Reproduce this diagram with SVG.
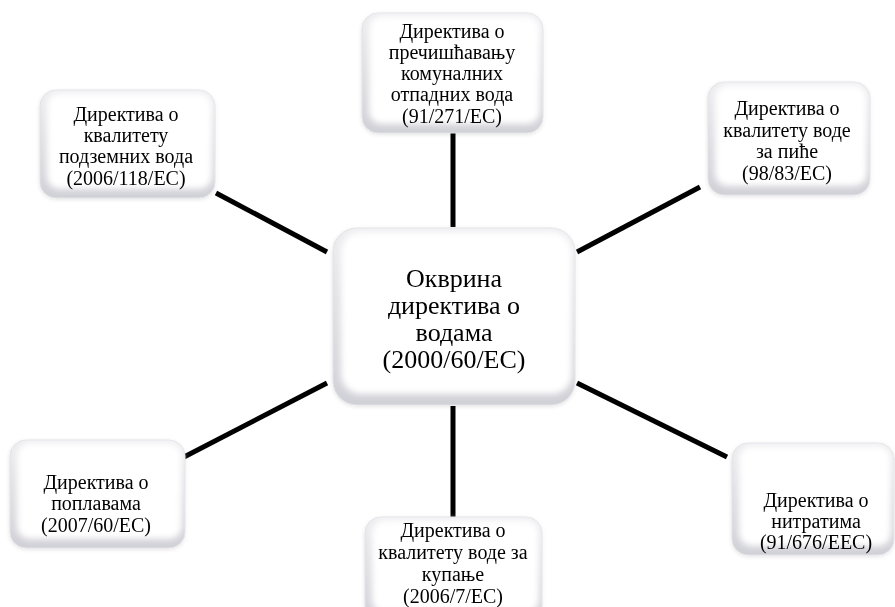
<svg xmlns="http://www.w3.org/2000/svg" width="895" height="607" viewBox="0 0 895 607">
<defs>
<linearGradient id="edge" x1="0" y1="0" x2="0" y2="1">
<stop offset="0" stop-color="#eeeef1"/>
<stop offset="1" stop-color="#d0d0d7"/>
</linearGradient>
<filter id="soft" x="-10%" y="-10%" width="120%" height="120%">
<feGaussianBlur stdDeviation="3"/>
</filter>
<filter id="shadow" x="-10%" y="-10%" width="120%" height="130%">
<feGaussianBlur in="SourceAlpha" stdDeviation="2"/>
<feOffset dy="1"/>
<feComponentTransfer><feFuncA type="linear" slope="0.12"/></feComponentTransfer>
<feMerge><feMergeNode/><feMergeNode in="SourceGraphic"/></feMerge>
</filter>
</defs>
<style>
.outer{fill:url(#edge);stroke:#e2e2e6;stroke-width:1}
.inner{fill:#ffffff;filter:url(#soft)}
.t{font-family:"Liberation Serif","Times New Roman",serif;font-size:20px;fill:#000;text-anchor:middle}
.tc{font-family:"Liberation Serif","Times New Roman",serif;font-size:26px;fill:#000;text-anchor:middle}
.c{stroke:#000;stroke-width:5;fill:none}
</style>
<rect width="895" height="607" fill="#ffffff"/>
<g id="connectors">
<line class="c" x1="453" y1="133" x2="453" y2="227"/>
<line class="c" x1="453" y1="406" x2="453" y2="517"/>
<line class="c" x1="216" y1="193" x2="327" y2="252"/>
<line class="c" x1="577" y1="252" x2="700" y2="187"/>
<line class="c" x1="184" y1="457" x2="327" y2="383"/>
<line class="c" x1="577" y1="383" x2="727" y2="457"/>
</g>
<g id="center" filter="url(#shadow)">
<rect class="outer" x="333" y="228" width="242" height="177" rx="24"/>
<rect class="inner" x="341" y="232" width="231" height="162" rx="20"/>
<text class="tc" x="454" y="287">Окврина</text>
<text class="tc" x="454" y="314">директива о</text>
<text class="tc" x="454" y="341">водама</text>
<text class="tc" x="454" y="368">(2000/60/EC)</text>
</g>
<g id="top" filter="url(#shadow)">
<rect class="outer" x="362" y="13" width="181" height="120" rx="16"/>
<rect class="inner" x="369" y="16" width="171" height="108" rx="13"/>
<text class="t" x="452" y="38">Директива о</text>
<text class="t" x="452" y="59">пречишћавању</text>
<text class="t" x="452" y="80">комуналних</text>
<text class="t" x="452" y="101">отпадних вода</text>
<text class="t" x="452" y="123">(91/271/EC)</text>
</g>
<g id="topleft" filter="url(#shadow)">
<rect class="outer" x="40" y="90" width="175" height="108" rx="16"/>
<rect class="inner" x="47" y="93" width="165" height="96" rx="13"/>
<text class="t" x="126" y="121">Директива о</text>
<text class="t" x="126" y="142">квалитету</text>
<text class="t" x="126" y="163">подземних вода</text>
<text class="t" x="126" y="185">(2006/118/EC)</text>
</g>
<g id="topright" filter="url(#shadow)">
<rect class="outer" x="708" y="82" width="162" height="113" rx="16"/>
<rect class="inner" x="715" y="85" width="152" height="101" rx="13"/>
<text class="t" x="787" y="115">Директива о</text>
<text class="t" x="787" y="137">квалитету воде</text>
<text class="t" x="787" y="158">за пиће</text>
<text class="t" x="787" y="180">(98/83/EC)</text>
</g>
<g id="bottomleft" filter="url(#shadow)">
<rect class="outer" x="10" y="440" width="175" height="108" rx="16"/>
<rect class="inner" x="17" y="443" width="165" height="96" rx="13"/>
<text class="t" x="96" y="489">Директива о</text>
<text class="t" x="96" y="510">поплавама</text>
<text class="t" x="96" y="532">(2007/60/EC)</text>
</g>
<g id="bottom" filter="url(#shadow)">
<rect class="outer" x="365" y="517" width="177" height="105" rx="16"/>
<rect class="inner" x="372" y="520" width="167" height="93" rx="13"/>
<text class="t" x="453" y="537">Директива о</text>
<text class="t" x="453" y="559">квалитету воде за</text>
<text class="t" x="453" y="581">купање</text>
<text class="t" x="453" y="603">(2006/7/EC)</text>
</g>
<g id="bottomright" filter="url(#shadow)">
<rect class="outer" x="732" y="443" width="162" height="112" rx="16"/>
<rect class="inner" x="739" y="446" width="152" height="100" rx="13"/>
<text class="t" x="816" y="507">Директива о</text>
<text class="t" x="816" y="528">нитратима</text>
<text class="t" x="816" y="549">(91/676/EEC)</text>
</g>
</svg>
